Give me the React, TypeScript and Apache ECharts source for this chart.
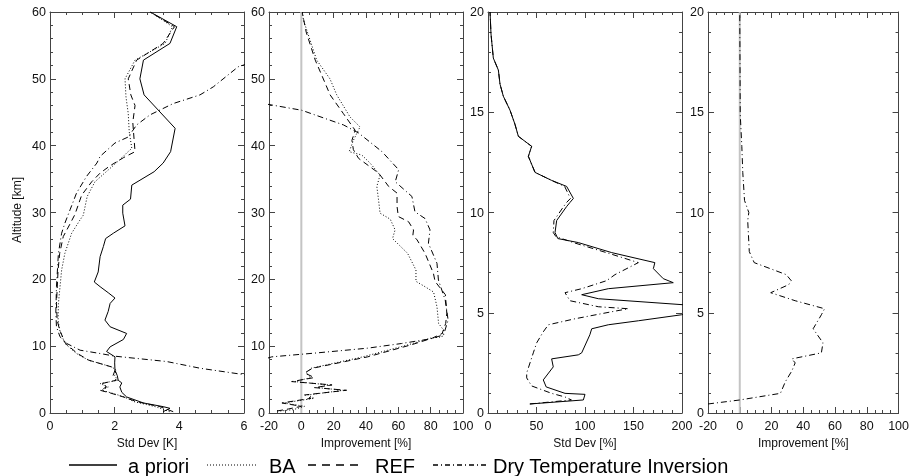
import React, { useEffect, useRef } from "react";
import * as echarts from "echarts";

// ---------- DATA: pairs are [altitude km, value] ----------
// Panel 1: temperature Std Dev [K]
const tempStdApriori: number[][] = [
  [0.2, 3.5], [0.7, 3.71], [0.95, 3.5], [1.5, 2.89], [2.4, 2.37], [3.1, 2.22], [3.9, 2.16], [4.5, 2.22],
  [4.9, 2.11], [5.6, 2.08], [6.4, 2.01], [7.5, 2.0], [8.4, 2.01], [9.2, 1.75], [9.9, 1.86], [11.0, 2.27],
  [11.9, 2.37], [12.9, 1.86], [13.9, 1.7], [15.2, 1.8], [16.4, 1.86], [17.2, 2.01], [18.0, 1.8], [18.9, 1.55],
  [19.6, 1.37], [21.1, 1.49], [23.4, 1.55], [24.9, 1.65], [26.1, 1.72], [26.9, 1.96], [28.0, 2.32], [29.9, 2.25],
  [31.1, 2.25], [32.0, 2.49], [34.1, 2.53], [36.1, 3.22], [37.4, 3.5], [39.1, 3.73], [42.6, 3.87], [47.6, 2.91],
  [50.0, 2.78], [52.8, 2.89], [55.3, 3.71], [57.8, 3.92], [60, 3.1],
];
const tempStdBA: number[][] = [
  [0.2, 3.7], [0.9, 3.3], [1.7, 2.6], [2.4, 2.3], [3.0, 1.9], [3.4, 1.6], [3.9, 1.8], [4.4, 1.55], [4.9, 2.1],
  [5.6, 2.0], [6.4, 2.05], [6.9, 1.91], [7.9, 1.19], [8.9, 0.82], [10.4, 0.46], [12.4, 0.3], [13.9, 0.25],
  [16.4, 0.26], [21.4, 0.36], [23.9, 0.46], [26.9, 0.67], [28.9, 0.93], [29.6, 1.03], [32.4, 1.15], [34.6, 1.39],
  [37.9, 2.16], [38.9, 2.37], [39.6, 2.53], [42.1, 2.45], [44.8, 2.42], [47.3, 2.35], [50.0, 2.32], [52.8, 2.63],
  [55.3, 3.56], [57.8, 3.79], [60, 3.1],
];
const tempStdREF: number[][] = [
  [0.2, 3.81], [0.95, 3.4], [1.7, 2.68], [2.4, 2.27], [3.0, 1.86], [3.4, 1.55], [3.9, 1.75], [4.4, 1.6],
  [4.9, 2.05], [5.6, 1.95], [6.4, 2.01], [6.9, 1.9], [7.9, 1.2], [8.9, 0.85], [10.4, 0.48], [12.4, 0.3],
  [13.9, 0.22], [16.4, 0.2], [21.4, 0.25], [23.9, 0.3], [26.4, 0.41], [28.3, 0.62], [29.7, 0.77], [32.6, 0.98],
  [34.6, 1.29], [35.9, 1.55], [37.0, 1.86], [38.2, 2.27], [39.1, 2.63], [43.5, 2.56], [46.0, 2.63], [47.6, 2.5],
  [50.0, 2.42], [52.8, 2.68], [55.3, 3.5], [57.8, 3.85], [60, 3.1],
];
const tempStdDTI: number[][] = [
  [5.6, 6.2], [6.7, 4.64], [7.7, 3.61], [8.5, 2.01], [8.9, 1.55], [9.4, 0.93], [10.4, 0.52], [11.4, 0.31],
  [12.9, 0.2], [15.0, 0.18], [18.9, 0.2], [23.9, 0.26], [26.9, 0.36], [28.4, 0.46], [30.4, 0.62], [32.9, 0.82],
  [35.4, 1.13], [37.4, 1.45], [38.4, 1.55], [40.4, 2.01], [41.3, 2.42], [43.1, 2.68], [44.6, 3.09], [46.3, 3.81],
  [47.6, 4.64], [48.8, 5.05], [51.8, 5.82], [52.4, 6.2],
];

// Panel 2: temperature Improvement [%]
const tempImpBA: number[][] = [
  [0.3, -13], [0.5, -5], [1.0, 2], [1.5, -11], [2.2, 8], [2.7, 4], [3.4, 26], [3.8, 10], [4.2, 17], [4.7, -4],
  [5.3, 6], [6.0, 3], [6.7, 6], [8.4, 38], [10.2, 66], [11.2, 80], [11.4, 87], [12.4, 88], [13.4, 84.9],
  [15.9, 83.9], [18.1, 81.8], [18.9, 76.5], [19.7, 70.9], [21.4, 70.9], [23.9, 65.7], [26.1, 56.4], [27.4, 58],
  [29.0, 55], [29.9, 48.7], [32.0, 47.7], [33.9, 46.7], [35.6, 48.7], [37.4, 42.5], [38.6, 37.4], [39.1, 29.6],
  [40.8, 32.2], [42.8, 36.3], [44.3, 30.1], [47.6, 21.9], [50.0, 17.7], [52.8, 9.5], [58.8, 1.3], [60, 0.7],
];
const tempImpREF: number[][] = [
  [0.3, -15], [0.6, -8], [1.0, 0], [1.5, -12], [2.2, 6], [2.7, 2], [3.4, 28], [3.8, 8], [4.2, 19], [4.7, -6],
  [5.3, 8], [6.0, 2], [6.7, 7], [8.4, 41], [10.2, 68], [11.2, 81], [11.9, 87.1], [13.4, 89.3], [14.9, 90],
  [17.7, 89.1], [19.7, 82.7], [20.9, 81.7], [23.9, 76.5], [25.9, 71.6], [26.6, 69], [27.4, 69.4], [28.6, 66.4],
  [29.4, 60], [30.9, 59.2], [32.9, 59.2], [33.9, 54], [35.9, 47.8], [38.1, 35.4], [39.4, 32.2], [40.8, 31.3],
  [42.3, 33.3], [44.8, 26], [47.6, 17.8], [50.5, 12.7], [52.8, 8.6], [57.0, 3], [60, 0.5],
];
const tempImpDTI: number[][] = [
  [8.2, -21], [8.4, -18.3], [9.0, 10], [9.7, 41], [10.4, 62], [11.1, 80], [11.7, 88], [13.9, 90.8], [16.9, 89],
  [19.9, 84.8], [22.4, 83.9], [25.4, 78.6], [27.4, 79.6], [29.1, 76.5], [30.1, 70.3], [32.4, 68.4], [34.6, 58.1],
  [36.4, 60.2], [39.1, 49.9], [41.9, 35.4], [43.1, 26.1], [45.3, 0.2], [46.2, -21],
];

// Panel 3: humidity Std Dev [%]
const humStdApriori: number[][] = [
  [0.45, 43.3], [0.65, 98.3], [0.93, 100], [0.98, 79.4], [1.3, 60], [1.65, 57], [2.3, 67.3], [2.7, 65.6],
  [2.9, 93.1], [3.0, 96.6], [3.9, 105], [4.2, 106.9], [4.4, 124], [4.6, 155], [4.9, 199.6], [5.15, 215],
  [5.4, 201], [5.7, 113.7], [5.9, 96.6], [6.2, 124], [6.5, 191], [6.7, 180.7], [7.2, 170.5], [7.5, 172],
  [8.0, 127.5], [8.5, 93.1], [8.7, 72], [9.0, 69.1], [9.6, 70.8], [10.3, 81.1], [10.5, 84.5], [10.7, 88],
  [11.3, 81.1], [11.6, 65.6], [12.0, 48.5], [12.8, 41.6], [13.3, 45], [13.8, 31.3], [14.4, 27.8], [15.1, 22.7],
  [15.8, 15.8], [16.4, 12.4], [17.1, 10.7], [17.7, 5.5], [18.9, 3.1], [20, 2.1],
];
const humStdDTI: number[][] = [
  [0.45, 43], [0.65, 86], [0.8, 79.4], [0.98, 65.6], [1.35, 45], [1.75, 39.9], [2.0, 39.9], [3.0, 46.7],
  [3.5, 50.2], [4.05, 57], [4.4, 62.2], [4.7, 89.7], [5.05, 127.5], [5.2, 144.6], [5.3, 113.7], [5.6, 84.5],
  [6.0, 79.4], [6.2, 96.6], [6.6, 122.3], [6.9, 130.9], [7.5, 155], [8.0, 122], [8.5, 88], [8.8, 70], [9.0, 67.3],
  [9.6, 68], [10.3, 78], [10.5, 81], [10.7, 85], [11.3, 79], [11.6, 65.6], [12.0, 48.5], [12.8, 41.6], [13.3, 45],
  [13.8, 31.3], [14.4, 27.8], [15.1, 22.7], [15.8, 15.8], [16.4, 12.4], [17.1, 10.7], [17.7, 5.5], [18.9, 3.1],
  [20, 2.1],
];

// Panel 4: humidity Improvement [%]
const humImpDTI: number[][] = [
  [0.45, -20], [0.65, 0], [0.98, 25.6], [1.56, 28.7], [2.1, 32.8], [2.5, 34.9], [2.7, 32.8], [3.0, 51.4],
  [3.5, 52.4], [4.2, 46.2], [4.9, 51.4], [5.2, 53.4], [5.6, 34.9], [6.0, 19.5], [6.4, 30.8], [6.6, 32.4],
  [6.9, 29.3], [7.5, 9.1], [8.05, 6], [9.6, 5], [10.0, 5.7], [10.6, 3], [12.0, 1.9], [13.3, 1.3], [14.9, 0.3],
  [20, 0],
];

const legendNames = ["a priori", "BA", "REF", "Dry Temperature Inversion"];
const xNames = ["Std Dev [K]", "Improvement [%]", "Std Dev [%]", "Improvement [%]"];
const yName = "Altitude [km]";

// ---------- STYLE ----------
const FONT = "'Liberation Sans', Arial, sans-serif";
const AX = "#444";
const TXT = "#111";
const DOT = [1, 2];
const DASH = [6, 4];
const DASHDOT = [6, 3, 1, 3];

const lefts = [50, 269, 488, 708];

function baseAxis(grid: number, min: number, max: number, interval: number, splits: number) {
  return {
    type: "value", gridIndex: grid, min, max, interval,
    splitLine: { show: false }, minorSplitLine: { show: false },
    axisLine: { show: true, onZero: false, lineStyle: { color: AX, width: 1 } },
    axisTick: { show: true, inside: true, length: 6, lineStyle: { color: AX, width: 1 } },
    minorTick: { show: true, splitNumber: splits, length: 3, lineStyle: { color: AX, width: 1 } },
  } as any;
}
function xAxes(grid: number, min: number, max: number, interval: number, splits: number, name: string) {
  const b = baseAxis(grid, min, max, interval, splits);
  return [
    {
      ...b, position: "bottom", name, nameLocation: "middle", nameGap: 18,
      nameTextStyle: { color: TXT },
      axisLabel: { margin: 6, fontSize: 12.5, color: TXT, fontFamily: FONT },
    },
    { ...b, position: "top", axisLabel: { show: false } },
  ];
}
function yAxes(grid: number, max: number, interval: number) {
  const y = baseAxis(grid, 0, max, interval, 5);
  return [
    { ...y, position: "left", axisLabel: { margin: 4, fontSize: 12.5, color: TXT, fontFamily: FONT } },
    { ...y, position: "right", axisLabel: { show: false } },
  ];
}

function curve(grid: number, pts: number[][], dash: any) {
  return {
    type: "line", xAxisIndex: grid * 2, yAxisIndex: grid * 2,
    data: pts.map((p) => [p[1], p[0]]),
    symbol: "none", clip: true, silent: true,
    lineStyle: { color: "#000", width: 1, type: dash },
  };
}
function zeroLine(grid: number, top: number) {
  return {
    type: "line", xAxisIndex: grid * 2, yAxisIndex: grid * 2,
    data: [[0, 0], [0, top]], symbol: "none", clip: true, silent: true,
    lineStyle: { color: "#c4c4c4", width: 2 },
  };
}

export default function App() {
  const ref = useRef<HTMLDivElement>(null);
  useEffect(() => {
    if (!ref.current) return;
    const chart = echarts.init(ref.current, undefined, { renderer: "svg" });
    const legendY = 466;
    const legendItems = [
      { x1: 69, x2: 117, tx: 128, dash: [100, 0], w: 1.4 },
      { x1: 207, x2: 257, tx: 269, dash: [1, 2], w: 1.2 },
      { x1: 308, x2: 362, tx: 375, dash: [8, 6], w: 1.3 },
      { x1: 433, x2: 487, tx: 493, dash: [5, 3, 1, 3], w: 1.3 },
    ];
    const graphic: any[] = [
      {
        type: "text", x: 17, y: 210, rotation: Math.PI / 2,
        style: { text: yName, fontSize: 12, fill: TXT, fontFamily: FONT, align: "center", verticalAlign: "middle" },
      },
    ];
    legendItems.forEach((it, i) => {
      graphic.push({
        type: "line", shape: { x1: it.x1, y1: legendY - 1, x2: it.x2, y2: legendY - 1 },
        style: { stroke: "#000", lineWidth: it.w, lineDash: it.dash },
      });
      graphic.push({
        type: "text", x: it.tx, y: legendY,
        style: { text: legendNames[i], fontSize: 20, fill: "#000", fontFamily: FONT, align: "left", verticalAlign: "middle" },
      });
    });

    const option: any = {
      animation: false,
      grid: lefts.map((l) => ({ left: l, top: 12, width: 194, height: 401 })),
      xAxis: [
        ...xAxes(0, 0, 6, 2, 4, xNames[0]),
        ...xAxes(1, -20, 100, 20, 4, xNames[1]),
        ...xAxes(2, 0, 200, 50, 5, xNames[2]),
        ...xAxes(3, -20, 100, 20, 4, xNames[3]),
      ],
      yAxis: [...yAxes(0, 60, 10), ...yAxes(1, 60, 10), ...yAxes(2, 20, 5), ...yAxes(3, 20, 5)],
      series: [
        zeroLine(1, 60),
        zeroLine(3, 20),
        curve(0, tempStdApriori, "solid"),
        curve(0, tempStdBA, DOT),
        curve(0, tempStdREF, DASH),
        curve(0, tempStdDTI, DASHDOT),
        curve(1, tempImpBA, DOT),
        curve(1, tempImpREF, DASH),
        curve(1, tempImpDTI, DASHDOT),
        curve(2, humStdApriori, "solid"),
        curve(2, humStdDTI, DASHDOT),
        curve(3, humImpDTI, DASHDOT),
      ],
      graphic,
    };
    chart.setOption(option);
    return () => chart.dispose();
  }, []);
  return <div ref={ref} style={{ position: "fixed", left: 0, top: 0, width: 912, height: 476 }} />;
}
